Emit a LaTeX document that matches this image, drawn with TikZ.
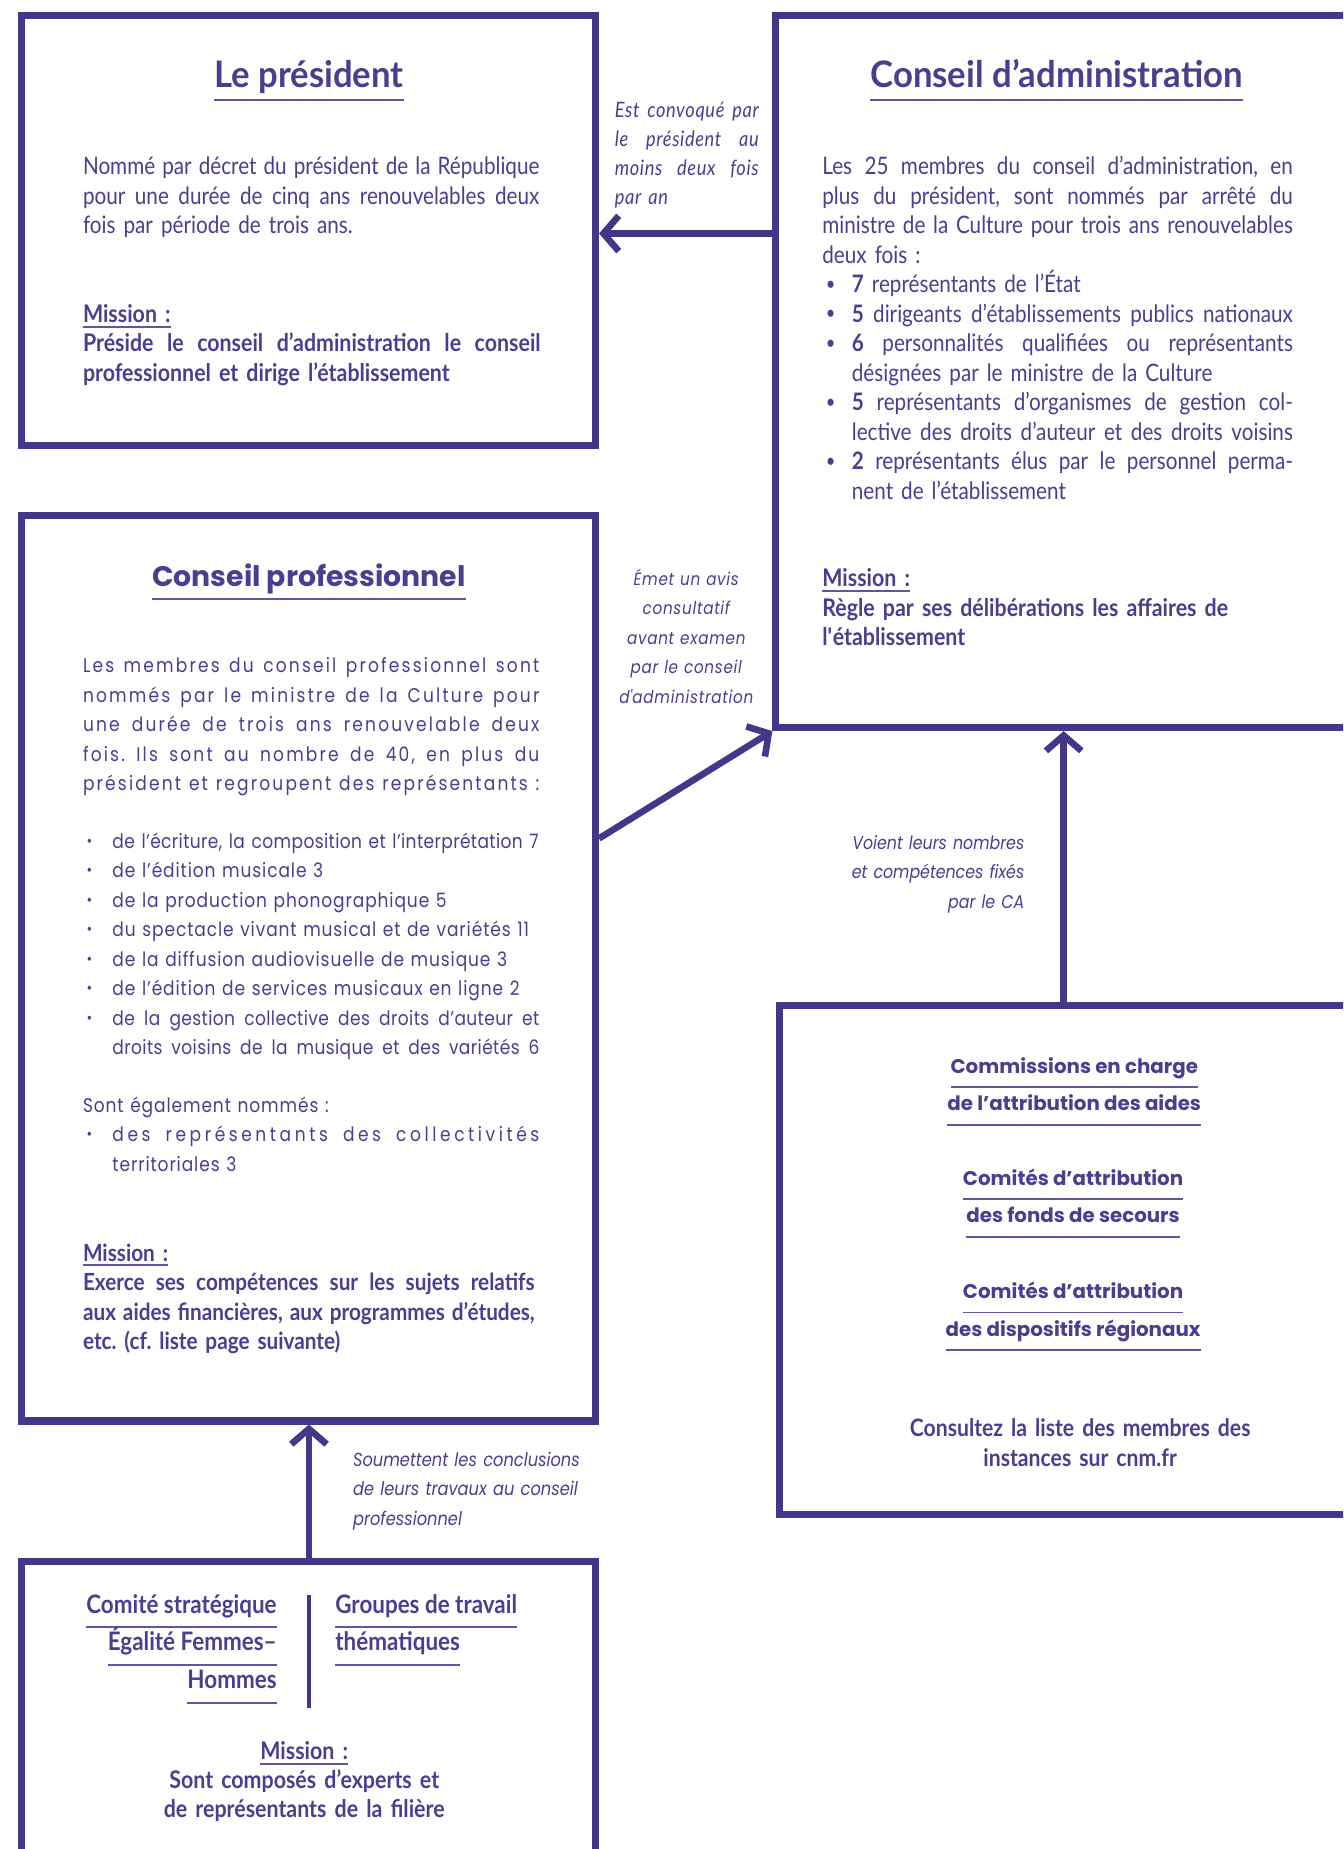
\documentclass[tikz,border=0pt]{standalone}
\usepackage{fontspec}
\usepackage{graphicx}
\setmainfont{Lato}[FakeStretch=0.86]
\newfontfamily\lb{Lato}[FakeStretch=0.88]
\newfontfamily\lt{Lato}[FakeStretch=0.95]
\newfontfamily\pop{Poppins}
\newfontfamily\popc{Poppins}[FakeStretch=0.86]
\usetikzlibrary{arrows.meta}
\definecolor{lc}{RGB}{68,55,138}
\definecolor{tc}{RGB}{74,62,145}
\definecolor{uc}{RGB}{96,84,164}
\newlength\W
\newcommand\ulx[2][4pt]{\leavevmode\vtop{\hbox{\raisebox{0pt}[\height][0pt]{#2}}\kern#1{\color{uc}\hrule height 0.8pt}}}
\newcommand\sps{\spaceskip=\fontdimen2\font plus 4\fontdimen2\font minus 0.3\fontdimen2\font\relax}
\newcommand\jl[1]{\leavevmode\hbox to \W{\sps #1}}
\newcommand\bl{\leavevmode\makebox[12.5pt][l]{\hspace{1.5pt}\raisebox{0.1em}{\scalebox{0.8}{\textbullet}}}}
\newcommand\bjl[1]{\bl\hbox to \dimexpr\W-12.5pt\relax{\sps #1}}
\newcommand\ijl[1]{\leavevmode\hspace*{12.5pt}\hbox to \dimexpr\W-12.5pt\relax{\sps #1}}
\newcommand\ind{\leavevmode\hspace*{12.5pt}}
\newcommand\cjl[1]{\leavevmode\hbox to \W{\addfontfeature{LetterSpace=11}\sps #1}}
\newcommand\lsp[1]{{\addfontfeature{LetterSpace=4.5}#1}}
\begin{document}
\frenchspacing
\begin{tikzpicture}[x=0.5pt,y=-0.5pt,
  box/.style={draw=lc, line width=3pt, inner sep=0pt, rectangle},
  arr/.style={draw=lc, line width=2.8pt, -{Straight Barb[length=6.5pt,width=15pt]}},
  txt/.style={inner sep=0pt, text=tc},
  tw/.style={text width=#1, execute at begin node={\setlength{\W}{#1}\strut}},
  body/.style={txt, anchor=north west, align=left, font=\fontsize{10.2}{12.5}\selectfont},
  mis/.style={body, font=\lb\fontsize{10.3}{12.5}\selectfont\bfseries},
  titl/.style={txt, anchor=base, font=\lt\fontsize{15.5}{17}\selectfont\bfseries},
  lab/.style={txt},
  com/.style={txt, anchor=base, font=\pop\fontsize{8.4}{10}\selectfont\bfseries},
  bot/.style={txt, font=\lb\fontsize{10.8}{12}\selectfont\bfseries},
]
\fill[white] (0,0) rectangle (1139,1568);
\useasboundingbox (0,0) rectangle (1139,1568);
\clip (0,0) rectangle (1139,1568);

% boxes
\node[box, minimum width=243.5pt, minimum height=182.5pt] (pres) at (261.5,195.5) {};
\node[box, minimum width=251pt, minimum height=302pt] (CA) at (909,315) {};
\node[box, minimum width=243.5pt, minimum height=384pt] (CP) at (261.5,821) {};
\node[box, minimum width=249.5pt, minimum height=215.5pt] (COM) at (910.5,1068.5) {};
\node[box, minimum width=243.5pt, minimum height=138pt] (BOT) at (261.5,1462) {};

% connectors
\coordinate (a1) at (0,198);
\draw[arr] (CA.west |- a1) -- (pres.east |- a1);
\coordinate (a2) at (0,711);
\draw[arr] (CP.east |- a2) -- (CA.south west);
\coordinate (a3) at (902,0);
\draw[arr] (COM.north -| a3) -- (CA.south -| a3);
\coordinate (a4) at (262,0);
\draw[arr] (BOT.north -| a4) -- (CP.south -| a4);

% president
\node[titl] (prest) at (262,74) {\ulx[5.1pt]{Le président}};
\node[body, tw=193.5pt] (presbody) at (70,130.5) {\jl{Nommé par décret du président de la République}\\
\jl{pour une durée de cinq ans renouvelables deux}\\
fois par période de trois ans.};
\node[mis, tw=194pt] (presmis) at (70,255.5) {\ulx[1.4pt]{Mission :}\\
\jl{Préside le conseil d’administration le conseil}\\
professionnel et dirige l’établissement};

% conseil d'administration
\node[titl] (cat) at (896,74) {\ulx[5.1pt]{Conseil d’administration}};
\node[body, tw=199.5pt] (cabody) at (697,130.5) {\jl{Les 25 membres du conseil d’administration, en}\\
\jl{plus du président, sont nommés par arrêté du}\\
\jl{ministre de la Culture pour trois ans renouvelables}\\
deux fois :\\
\bl\textbf{7} représentants de l’État\\
\bjl{\textbf{5} dirigeants d’établissements publics nationaux}\\
\bjl{\textbf{6} personnalités qualifiées ou représentants}\\
\ind désignées par le ministre de la Culture\\
\bjl{\textbf{5} représentants d’organismes de gestion col-}\\
\ijl{lective des droits d’auteur et des droits voisins}\\
\bjl{\textbf{2} représentants élus par le personnel perma-}\\
\ind nent de l’établissement};
\node[mis, tw=205pt] (camis) at (697,479.5) {\ulx[1.4pt]{Mission :}\\
Règle par ses délibérations les affaires de\\
l\textquotesingle établissement};

% labels
\node[lab, tw=61pt, anchor=north west, align=left, font=\fontsize{9}{12.33}\selectfont\itshape\addfontfeature{LetterSpace=3}] (l1) at (521,81.7) {\jl{Est convoqué par}\\ \jl{le président au}\\ \jl{moins deux fois}\\ par an};
\node[lab, tw=72pt, anchor=north, align=center, font=\popc\fontsize{7.5}{12.5}\selectfont\itshape\addfontfeature{LetterSpace=4}] (l2) at (582,478.5) {Émet un avis\\ consultatif\\ avant examen\\ par le conseil\\ d\textquotesingle administration};
\node[lab, tw=90pt, anchor=north east, align=right, font=\popc\fontsize{7.8}{12.5}\selectfont\itshape] (l3) at (869,702.5) {Voient leurs nombres\\ et compétences fixés\\ par le CA};
\node[lab, tw=110pt, anchor=north west, align=left, font=\popc\fontsize{8.0}{12.5}\selectfont\itshape] (l4) at (299,1225.5) {Soumettent les conclusions\\ de leurs travaux au conseil\\ professionnel};

% conseil professionnel
\node[titl, font=\pop\fontsize{12}{14}\selectfont\bfseries] (cpt) at (262,497) {\ulx[5.1pt]{Conseil professionnel}};
\node[body, tw=193.5pt, font=\popc\fontsize{8.4}{12.5}\selectfont\addfontfeature{LetterSpace=2}] (cpbody) at (70,552.5) {\cjl{Les membres du conseil professionnel sont}\\
\cjl{nommés par le ministre de la Culture pour}\\
\cjl{une durée de trois ans renouvelable deux}\\
\cjl{fois. Ils sont au nombre de 40, en plus du}\\
\cjl{président et regroupent des représentants :}\\[12pt]
\bl de l’écriture, la composition et l’interprétation 7\\
\bl \lsp{de l’édition musicale 3}\\
\bl \lsp{de la production phonographique 5}\\
\bl \lsp{du spectacle vivant musical et de variétés 11}\\
\bl \lsp{de la diffusion audiovisuelle de musique 3}\\
\bl \lsp{de l’édition de services musicaux en ligne 2}\\
\bjl{de la gestion collective des droits d’auteur et}\\
\ijl{droits voisins de la musique et des variétés 6}\\[12pt]
\lsp{Sont également nommés :}\\
\bjl{\addfontfeature{LetterSpace=18}des représentants des collectivités}\\
\ind \lsp{territoriales 3}};
\node[mis, tw=191.5pt, font=\lb\fontsize{10}{12.5}\selectfont\bfseries] (cpmis) at (70,1051.5) {\ulx[1.4pt]{Mission :}\\
\jl{Exerce ses compétences sur les sujets relatifs}\\
\jl{aux aides financières, aux programmes d’études,}\\
etc. (cf. liste page suivante)};

% commissions
\node[com] (c1) at (911,910) {\ulx[5.6pt]{Commissions en charge}};
\node[com] (c2) at (911,942) {\ulx[5.6pt]{de l’attribution des aides}};
\node[com] (c3) at (910,1005) {\ulx[5.6pt]{Comités d’attribution}};
\node[com] (c4) at (910,1037) {\ulx[5.6pt]{des fonds de secours}};
\node[com] (c5) at (910,1101) {\ulx[5.6pt]{Comités d’attribution}};
\node[com] (c6) at (910,1133) {\ulx[5.6pt]{des dispositifs régionaux}};
\node[body, tw=180pt, anchor=north, align=center, font=\lb\fontsize{10.2}{12.5}\selectfont\bfseries] (cons) at (916,1200.5) {Consultez la liste des membres des\\ instances sur cnm.fr};

% bottom box
\node[bot, anchor=base east] (b1) at (235,1368) {\ulx[5.6pt]{Comité stratégique}};
\node[bot, anchor=base east] (b2) at (235,1400) {\ulx[5.6pt]{Égalité Femmes–}};
\node[bot, anchor=base east] (b3) at (235,1432) {\ulx[5.6pt]{Hommes}};
\draw[draw=lc, line width=1.6pt] (262,1353) -- (262,1448);
\node[bot, anchor=base west] (b4) at (284,1368) {\ulx[5.6pt]{Groupes de travail}};
\node[bot, anchor=base west] (b5) at (284,1400) {\ulx[5.6pt]{thématiques}};
\node[mis, tw=200pt, anchor=north, align=center, font=\lb\fontsize{10.3}{12.25}\selectfont\bfseries] (botmis) at (258,1474.9) {\ulx[1.4pt]{Mission :}\\
Sont composés d’experts et\\
de représentants de la filière};
\end{tikzpicture}
\end{document}
